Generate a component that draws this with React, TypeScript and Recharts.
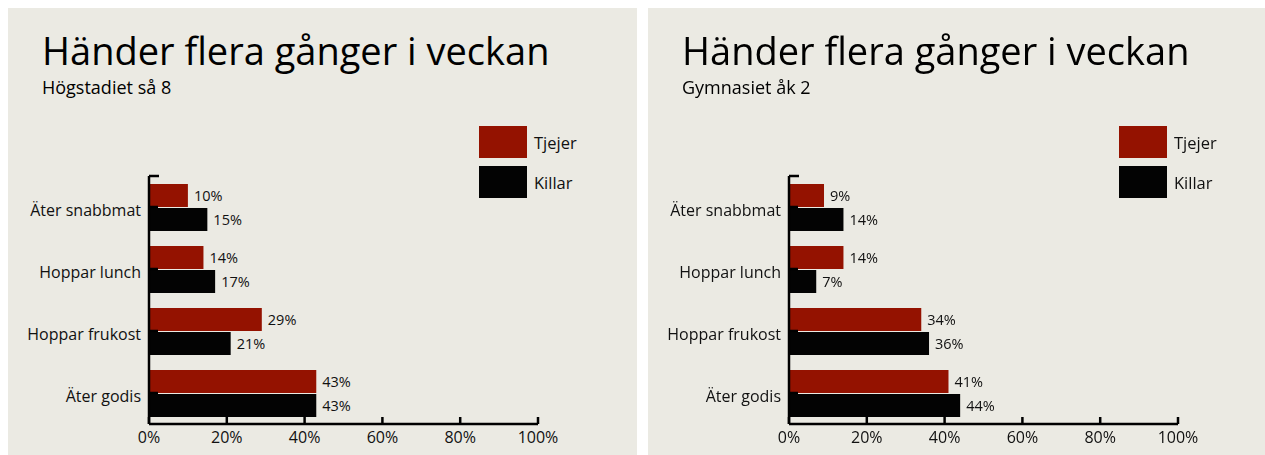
import { BarChart, Bar, XAxis, YAxis, LabelList } from "recharts";

const categories = ["Äter snabbmat", "Hoppar lunch", "Hoppar frukost", "Äter godis"];
const hogTjejer = [10, 14, 29, 43];
const hogKillar = [15, 17, 21, 43];
const gymTjejer = [9, 14, 34, 41];
const gymKillar = [14, 7, 36, 44];
const xTicks = [0, 20, 40, 60, 80, 100];

const TITLE = "Händer flera gånger i veckan";
const RED = "#941200";
const BLACK = "#030303";
const BG = "#ebeae3";
const FONT = "'Open Sans', 'Noto Sans', sans-serif";

// y-axis tick: label + short inward tick line
const YTick = (props: any) => {
  const { x, y, payload, index } = props;
  const ax = x + 8;
  const half = payload?.offset ?? 31;
  return (
    <g>
      <line x1={ax} x2={ax + 9} y1={y} y2={y} stroke="#000" strokeWidth={2.5} />
      {index === 0 && (
        <line x1={ax} x2={ax + 10} y1={y - half} y2={y - half} stroke="#000" strokeWidth={2.5} />
      )}
      <text x={x} y={y + 3} textAnchor="end" dominantBaseline="central" fontSize={16} fill="#111">
        {payload.value}
      </text>
    </g>
  );
};

const XTick = (props: any) => {
  const { x, y, payload } = props;
  return (
    <g>
      <line x1={x} x2={x} y1={y} y2={y - 7} stroke="#000" strokeWidth={2.5} />
      <text x={x} y={y + 19} textAnchor="middle" fontSize={16} fill="#111">
        {`${payload.value}%`}
      </text>
    </g>
  );
};

const Panel = ({ left, subtitle, tjejer, killar }: { left: number; subtitle: string; tjejer: number[]; killar: number[] }) => {
  const data = categories.map((c, i) => ({ name: c, tjejer: tjejer[i], killar: killar[i] }));
  return (
    <div style={{ position: "absolute", left, top: 0, width: 629, height: 447, background: BG }}>
      <div style={{ position: "absolute", left: 34, top: 23, fontSize: 38, lineHeight: 1, color: "#000", whiteSpace: "nowrap" }}>
        {TITLE}
      </div>
      <div style={{ position: "absolute", left: 34, top: 70, fontSize: 18, lineHeight: 1, color: "#000" }}>
        {subtitle}
      </div>
      {[
        { label: "Tjejer", color: RED, top: 118 },
        { label: "Killar", color: BLACK, top: 158 },
      ].map((l) => (
        <div key={l.label} style={{ position: "absolute", left: 471, top: l.top, display: "flex", alignItems: "center", height: 32 }}>
          <div style={{ width: 48, height: 32, background: l.color }} />
          <span style={{ marginLeft: 7, fontSize: 16.5, color: "#111" }}>{l.label}</span>
        </div>
      ))}
      <div style={{ position: "absolute", left: 0, top: 0 }}>
        <BarChart
          width={629}
          height={447}
          data={data}
          layout="vertical"
          margin={{ top: 168, right: 99, bottom: 0, left: 0 }}
          barSize={23}
          barGap={1}
        >
          <XAxis
            type="number"
            domain={[0, 100]}
            ticks={xTicks}
            height={31}
            axisLine={{ stroke: "#000", strokeWidth: 2.5 }}
            tickLine={false}
            tickSize={0}
            tickMargin={0}
            tick={<XTick />}
            interval={0}
          />
          <YAxis
            type="category"
            dataKey="name"
            width={141}
            axisLine={{ stroke: "#000", strokeWidth: 2.5 }}
            tickLine={false}
            tickSize={0}
            tickMargin={8}
            tick={<YTick />}
            interval={0}
          />
          <Bar dataKey="tjejer" fill={RED} isAnimationActive={false}>
            <LabelList dataKey="tjejer" position="right" offset={6} fontSize={14.5} fill="#111" formatter={(v: any) => `${v}%`} />
          </Bar>
          <Bar dataKey="killar" fill={BLACK} isAnimationActive={false}>
            <LabelList dataKey="killar" position="right" offset={6} fontSize={14.5} fill="#111" formatter={(v: any) => `${v}%`} />
          </Bar>
        </BarChart>
      </div>
    </div>
  );
};

export default function App() {
  return (
    <div style={{ position: "fixed", left: 8, top: 8, width: 1257, height: 447, overflow: "hidden", fontFamily: FONT }}>
      <Panel left={0} subtitle="Högstadiet så 8" tjejer={hogTjejer} killar={hogKillar} />
      <Panel left={640} subtitle="Gymnasiet åk 2" tjejer={gymTjejer} killar={gymKillar} />
    </div>
  );
}
